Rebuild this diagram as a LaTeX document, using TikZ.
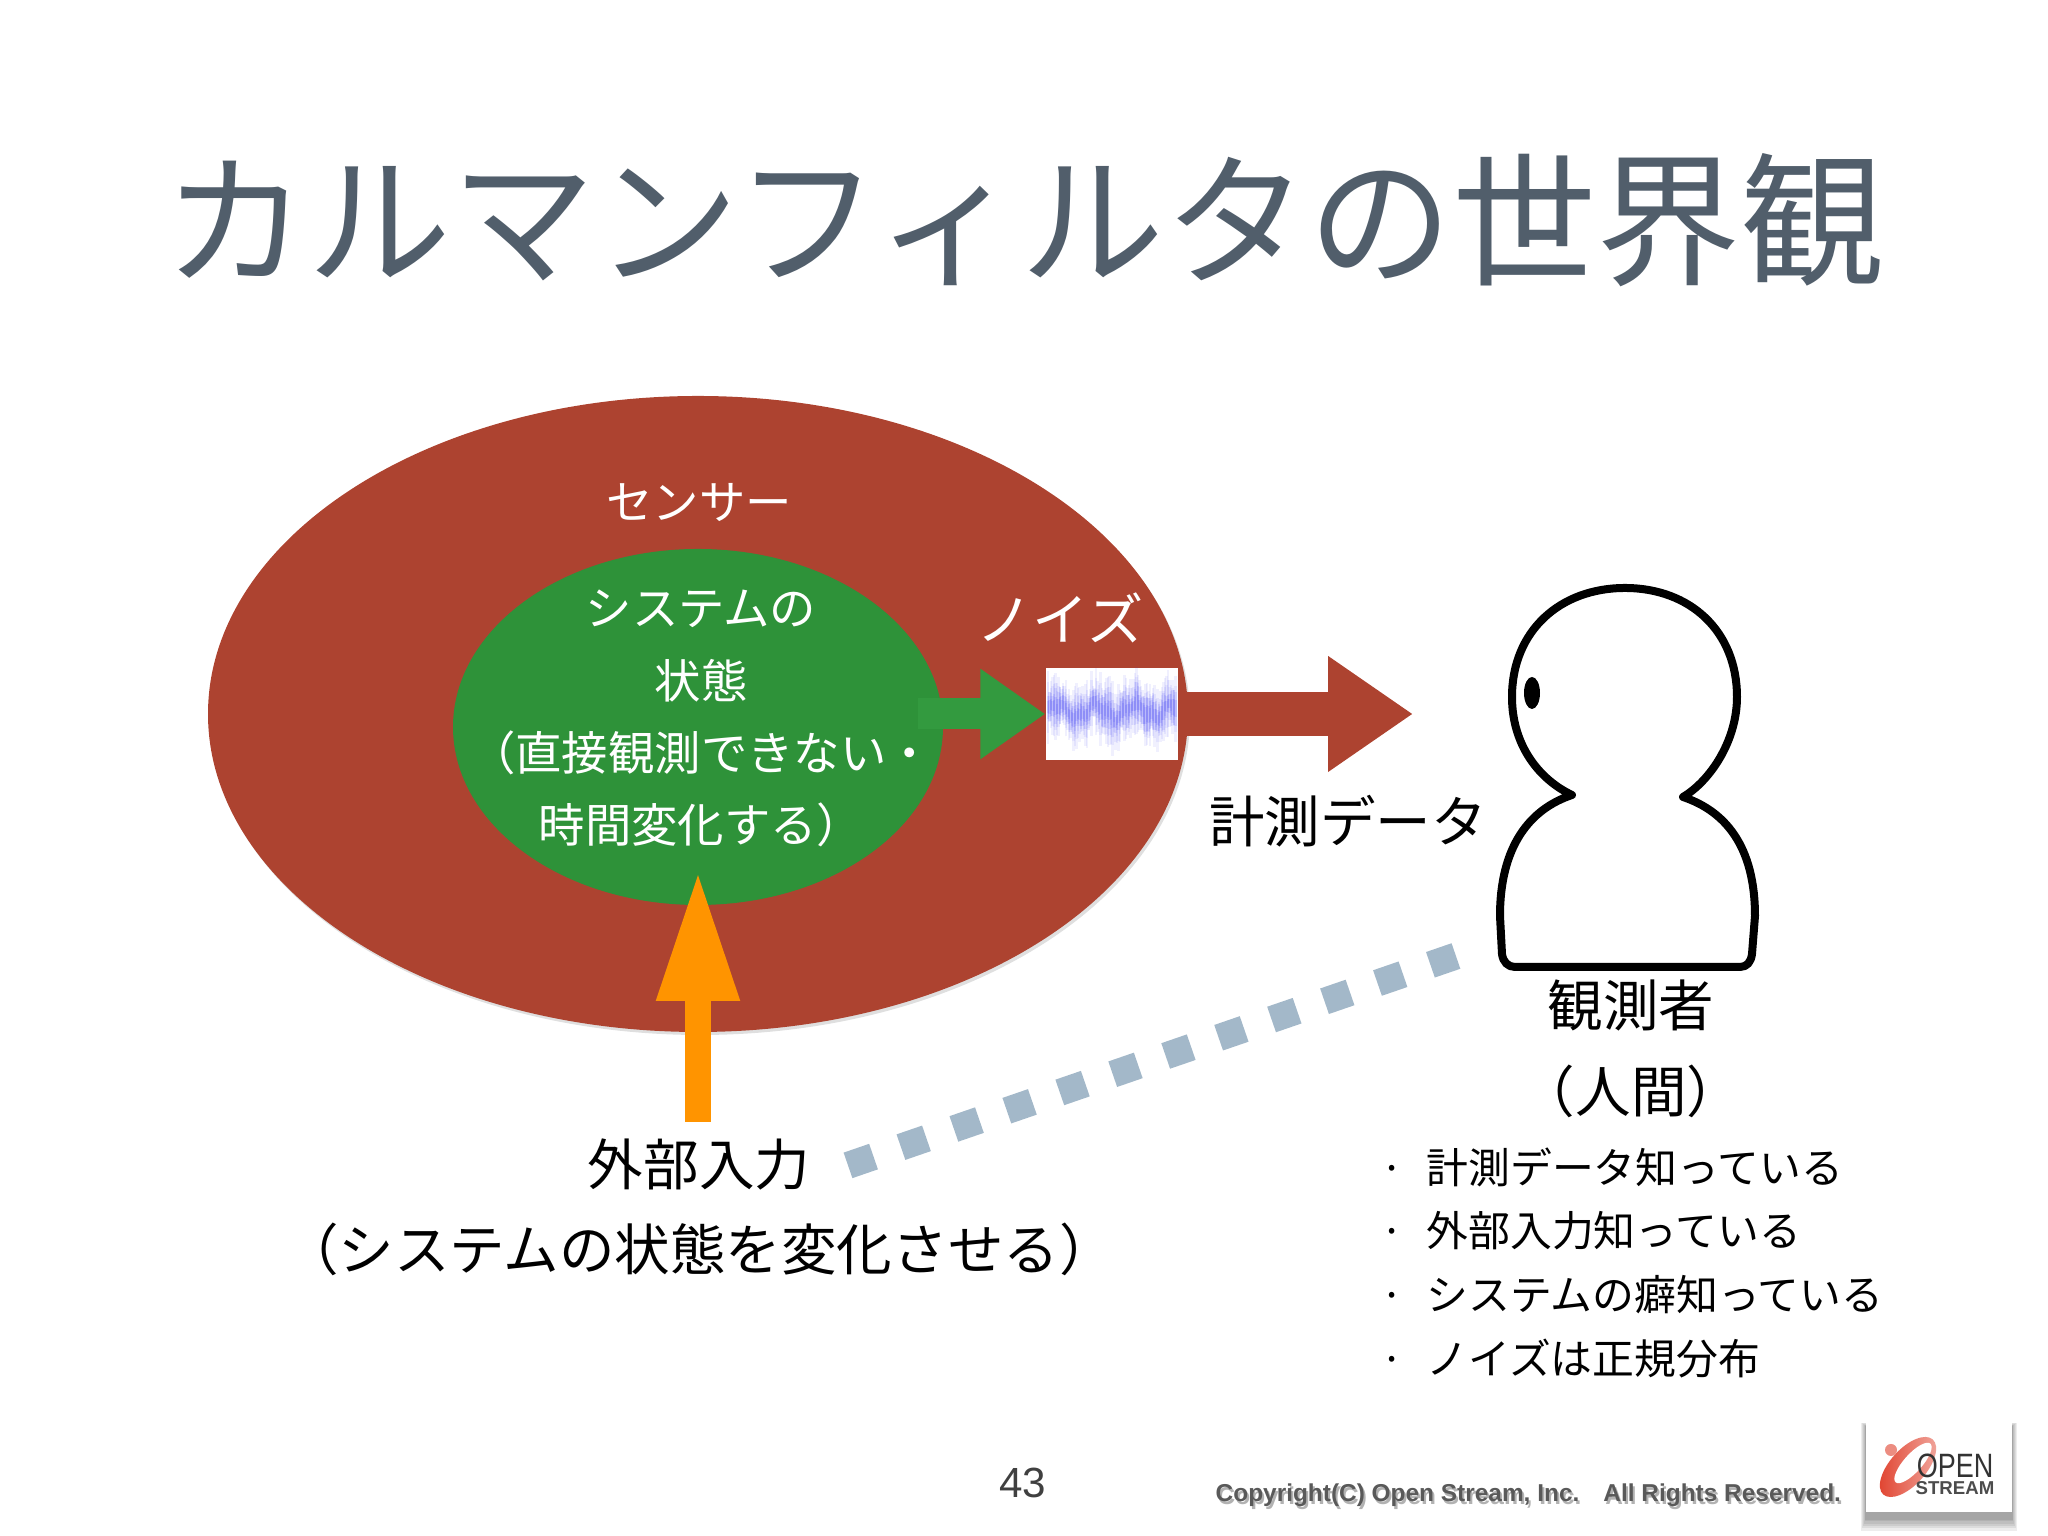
\documentclass[tikz,border=0pt]{standalone}
\usepackage{fontspec}
\setmainfont{Noto Sans CJK JP}
\newfontfamily\latinfont{Liberation Sans}
\usetikzlibrary{arrows.meta,shapes.geometric,shadows}
\definecolor{sensorred}{HTML}{AD4330}
\definecolor{stategreen}{HTML}{2E9239}
\definecolor{arrowgreen}{HTML}{339A3F}
\definecolor{inputorange}{HTML}{FF9400}
\definecolor{dashblue}{HTML}{A3B8C9}
\definecolor{titleslate}{HTML}{515E6B}
\definecolor{noiseblue}{HTML}{4545F5}
\definecolor{logored}{HTML}{E0402C}

\begin{document}
\begin{tikzpicture}[
            every node/.style={inner sep=0pt},
            titletext/.style={text=titleslate,font=\fontsize{41}{48}\selectfont},
            whitetext/.style={text=white,align=center,font=\fontsize{13.2}{20.5}\selectfont},
            bigtext/.style={font=\fontsize{15.8}{20}\selectfont},
            listtext/.style={anchor=west,font=\fontsize{11.9}{14}\selectfont},
            copytext/.style={anchor=west,font=\latinfont\bfseries\fontsize{6.95}{9}\selectfont}
        ]
        \useasboundingbox (0,0) rectangle (20.48,15.36);

        \node[titletext] (title) at (10.24,13.16) {カルマンフィルタの世界観};

        \node[ellipse,fill=sensorred,minimum width=9.8cm,minimum height=6.36cm,
              drop shadow={shadow xshift=0.02cm,shadow yshift=-0.03cm,opacity=0.25}] (sensor) at (6.98,8.22) {};
        \node[ellipse,fill=stategreen,minimum width=4.9cm,minimum height=3.56cm] (state) at (6.98,8.09) {};

        \node[whitetext] (sensorlabel) at (6.99,10.33) {センサー};
        \node[whitetext] (statelabel) at (7.01,8.175) {システムの\\状態\\（直接観測できない・\\時間変化する）};
        \node[whitetext,font=\fontsize{16}{18}\selectfont] (noiselabel) at (10.60,9.18) {ノイズ};

        \node[fill=white,minimum width=1.32cm,minimum height=0.92cm] (noise) at (11.12,8.22) {};
        \pgfmathsetseed{11}
        \foreach \i in {0,...,85}{
            \pgfmathsetmacro{\nx}{10.48+\i*0.015}
            \pgfmathsetmacro{\ny}{8.25+0.06*sin(\i*14)+0.035*sin(\i*37+40)+0.02*rand}
            \pgfmathsetmacro{\nh}{0.14+0.24*rnd}
            \pgfmathsetmacro{\nc}{0.08+0.11*rnd}
            \draw[noiseblue,opacity=0.08,line width=0.025cm] (\nx,\ny-\nh) -- (\nx,\ny+\nh);
            \draw[noiseblue,opacity=0.08,line width=0.025cm] (\nx,\ny-0.7*\nh) -- (\nx,\ny+0.7*\nh);
            \draw[noiseblue,opacity=0.12,line width=0.025cm] (\nx,\ny-\nc) -- (\nx,\ny+\nc);
            \draw[noiseblue,opacity=0.14,line width=0.025cm] (\nx,\ny-0.5*\nc) -- (\nx,\ny+0.5*\nc);
        }

        \coordinate (greenstart) at (9.18,8.22);
        \coordinate (datatip) at (14.13,8.22);
        \coordinate (inputstart) at (6.98,4.14);
        \coordinate (inputtip) at (6.98,6.67);
        \coordinate (dashstart) at (8.48,3.706);
        \coordinate (dashend) at (14.56,5.80);

        \draw[arrowgreen,line width=0.31cm,-{Triangle[length=0.65cm,width=0.86cm]}] (greenstart) -- (noise.west);
        \draw[sensorred,line width=0.44cm,-{Triangle[length=0.85cm,width=1.10cm]}] (noise.east) -- (datatip);
        \draw[inputorange,line width=0.26cm,-{Triangle[length=1.32cm,width=0.76cm]}] (inputstart) -- (inputtip);
        \draw[dashblue,line width=0.27cm,dash pattern=on 0.27cm off 0.29cm] (dashstart) -- (dashend);

        \node[bigtext] (datalabel) at (13.48,7.15) {計測データ};
        \node[bigtext] (inputlabel) at (6.99,3.71) {外部入力};
        \node[bigtext] (inputnote) at (6.99,2.87) {（システムの状態を変化させる）};
        \node[bigtext] (observer) at (16.31,5.30) {観測者};
        \node[bigtext] (human) at (16.31,4.45) {（人間）};

        \draw[line width=0.08cm,line join=round,fill=white] (15.72,7.41)
            .. controls (15.40,7.56) and (15.12,7.90) .. (15.12,8.39)
            .. controls (15.12,9.05) and (15.60,9.48) .. (16.25,9.48)
            .. controls (16.90,9.48) and (17.37,9.05) .. (17.37,8.39)
            .. controls (17.37,7.95) and (17.10,7.55) .. (16.83,7.39)
            .. controls (17.25,7.25) and (17.55,6.90) .. (17.55,6.20)
            -- (17.52,5.82) .. controls (17.51,5.74) and (17.47,5.69) .. (17.40,5.69)
            -- (15.15,5.69) .. controls (15.08,5.69) and (15.03,5.74) .. (15.02,5.82)
            -- (15.00,6.20)
            .. controls (15.00,6.90) and (15.30,7.27) .. (15.72,7.41) -- cycle;
        \fill (15.32,8.43) ellipse (0.08 and 0.16);

        \node[listtext] (know1) at (13.80,3.69) {\makebox[0.46cm][l]{·}計測データ知っている};
        \node[listtext] (know2) at (13.80,3.05) {\makebox[0.46cm][l]{·}外部入力知っている};
        \node[listtext] (know3) at (13.80,2.41) {\makebox[0.46cm][l]{·}システムの癖知っている};
        \node[listtext] (know4) at (13.80,1.77) {\makebox[0.46cm][l]{·}ノイズは正規分布};

        \node[font=\latinfont\fontsize{12}{14}\selectfont,text=black!75] (pagenum) at (10.23,0.53) {43};

        \node[copytext,text=black!30] (copyshadow) at (12.17,0.38) {Copyright(C) Open Stream, Inc.\hspace{0.15cm} All Rights Reserved.};
        \node[copytext,text=black!65] (copyright) at (12.15,0.41) {Copyright(C) Open Stream, Inc.\hspace{0.15cm} All Rights Reserved.};

        \foreach \s in {0.08,0.065,0.05,0.035,0.02,0.01}{
            \fill[black,opacity=0.07] (18.66-0.6*\s,0.18-1.6*\s) rectangle (20.12+0.6*\s,1.10+0.4*\s);
        }
        \node[fill=white,minimum width=1.46cm,minimum height=0.90cm] (logo) at (19.39,0.69) {};
        \shade[left color=logored,right color=logored!45,rotate around={48:(19.08,0.69)}] (19.08,0.69) ellipse (0.37 and 0.18);
        \fill[white,rotate around={48:(19.13,0.73)}] (19.13,0.73) ellipse (0.26 and 0.09);
        \fill[logored!60] (18.91,0.86) circle (0.06);
        \node[font=\latinfont\fontsize{9.6}{10}\selectfont,xscale=0.8,text=black!80] (logoopen) at (19.55,0.70) {OPEN};
        \node[font=\latinfont\bfseries\fontsize{5.3}{6}\selectfont,text=black!70] (logostream) at (19.55,0.48) {STREAM};
    \end{tikzpicture}
\end{document}
